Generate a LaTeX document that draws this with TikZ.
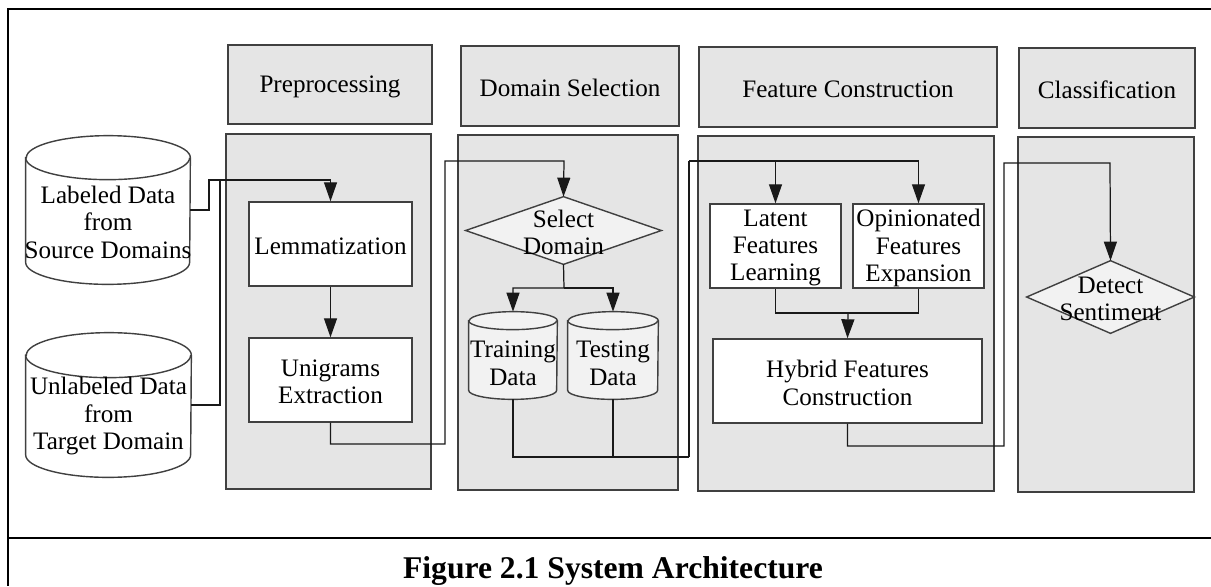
\documentclass[tikz,border=0pt]{standalone}
\usepackage{fontspec}
\setmainfont{Liberation Serif}
\usetikzlibrary{arrows.meta,calc,fit}
\pgfdeclarelayer{bg}
\pgfsetlayers{bg,main}

% database cylinder behind a fitted node: name, half width, cap height (px), fill
\newcommand\dbshape[4]{%
  \begin{pgfonlayer}{bg}
    \draw[boxline, fill=#4]
      ($(#1.north west)+(0,#3)$) -- ($(#1.south west)+(0,-#3)$)
      arc[start angle=180, end angle=360, x radius={#2*0.02cm}, y radius={#3*0.02cm}]
      -- ($(#1.north east)+(0,#3)$)
      arc[start angle=0, end angle=180, x radius={#2*0.02cm}, y radius={#3*0.02cm}]
      -- cycle;
    \draw[boxline] ($(#1.north west)+(0,#3)$)
      arc[start angle=180, end angle=360, x radius={#2*0.02cm}, y radius={#3*0.02cm}];
  \end{pgfonlayer}}

% decision diamond behind a fitted node
\newcommand\decshape[1]{%
  \begin{pgfonlayer}{bg}
    \draw[boxline, fill=black!5] (#1.north) -- (#1.east) -- (#1.south) -- (#1.west) -- cycle;
  \end{pgfonlayer}}

\begin{document}
\begin{tikzpicture}[x=0.02cm, y=-0.02cm,
  every node/.style={font=\fontsize{14.3}{15.6}\selectfont},
  boxline/.style={draw=black!75, line width=0.8pt},
  holder/.style={inner sep=0pt},
  head/.style={holder, boxline, fill=black!10},
  panel/.style={holder, boxline, fill=black!10},
  proc/.style={holder, boxline, fill=white},
  txt/.style={label={[yshift=-0.04cm, align=center]center:{#1}}},
  txtlow/.style 2 args={label={[yshift=#1, align=center]center:{#2}}},
  flow/.style={black!90, line width=0.7pt},
  arr/.style={flow, -{Triangle[length=0.38cm, width=0.26cm]}},
  frame/.style={black, line width=1.2pt}]

\useasboundingbox (0,0) rectangle (1211,586);

% outer frame and caption rule
\draw[frame] (1211,9) -- (8,9) -- (8,586);
\draw[frame] (8,538) -- (1211,538);

% stage headers
\node[fit={(228,45)(432,124)}, head, txt=Preprocessing] (h1) {};
\node[fit={(461,46)(679,126)}, head, txt=Domain Selection] (h2) {};
\node[fit={(699,47)(997,127)}, head, txt=Feature Construction] (h3) {};
\node[fit={(1019,48)(1195,128)}, head, txt=Classification] (h4) {};

% stage panels
\begin{pgfonlayer}{bg}
\node[fit={(226,134)(431,489)}, panel] (p1) {};
\node[fit={(458,135)(678,490)}, panel] (p2) {};
\node[fit={(698,136)(994,491)}, panel] (p3) {};
\node[fit={(1018,137)(1194,492)}, panel] (p4) {};
\end{pgfonlayer}

% input data stores
\node[fit={(26,136)(190,284)}, holder,
  txtlow={-0.24cm}{Labeled Data\\from\\Source Domains}] (lab) {};
\dbshape{lab}{82}{22}{white}
\node[fit={(26,333)(191,477)}, holder,
  txtlow={-0.22cm}{Unlabeled Data\\from\\Target Domain}] (unl) {};
\dbshape{unl}{82.5}{22.5}{white}

% preprocessing
\node[fit={(249,202)(412,286)}, proc, txt=Lemmatization] (lem) {};
\node[fit={(249,338)(412,422)}, proc, txt={Unigrams\\Extraction}] (uni) {};

% domain selection
\node[fit={(466,197)(661,264)}, holder, txt={Select\\Domain}] (sel) {};
\decshape{sel}
\node[fit={(469,312)(557,399)}, holder,
  txtlow={-0.16cm}{Training\\Data}] (train) {};
\dbshape{train}{44}{9}{black!5}
\node[fit={(568,312)(658,399)}, holder,
  txtlow={-0.16cm}{Testing\\Data}] (test) {};
\dbshape{test}{45}{9}{black!5}

% feature construction
\node[fit={(710,204)(841,288)}, proc, txt={Latent\\Features\\Learning}] (lat) {};
\node[fit={(853,204)(984,288)}, proc, txt={Opinionated\\Features\\Expansion}] (opi) {};
\node[fit={(713,339)(982,423)}, proc, txt={Hybrid Features\\Construction}] (hyb) {};

% classification
\node[fit={(1027,261)(1194,333)}, holder, txt={Detect\\Sentiment}] (det) {};
\decshape{det}

% routing points
\coordinate (j1) at (209,180);
\coordinate (j2) at (220,180);
\coordinate (j3) at (445,444);
\coordinate (j4) at (564,161);
\coordinate (j5) at (564,288);
\coordinate (j6) at (689,457);
\coordinate (j7) at (689,161);
\coordinate (j8) at (848,313);
\coordinate (j9) at (1004,446);
\coordinate (j10) at (1110,163);

% connectors
\draw[arr] (lab.east) -| (j1) -| (lem.north);
\draw[flow] (unl.east) -| (j2);
\draw[arr] (lem.south) -- (uni.north);
\draw[arr] (uni.south) |- (j3) |- (j4) -- (sel.north);
\draw[arr] (sel.south) -- (j5) -| (train.north);
\draw[arr] (j5) -| (test.north);
\draw[flow] (train.south) |- (j6);
\draw[flow] (test.south) -- (test.south |- j6);
\draw[flow] (j6) -- (j7);
\draw[arr] (j7) -| (lat.north);
\draw[arr] (j7) -| (opi.north);
\draw[flow] (lat.south) |- (j8);
\draw[flow] (opi.south) |- (j8);
\draw[arr] (j8) -- (hyb.north);
\draw[arr] (hyb.south) |- (j9) |- (j10) -- (det.north);

% caption
\node[font=\bfseries\fontsize{18}{20}\selectfont, anchor=base] (cap) at (613,578)
  {Figure 2.1 System Architecture};
\end{tikzpicture}
\end{document}
